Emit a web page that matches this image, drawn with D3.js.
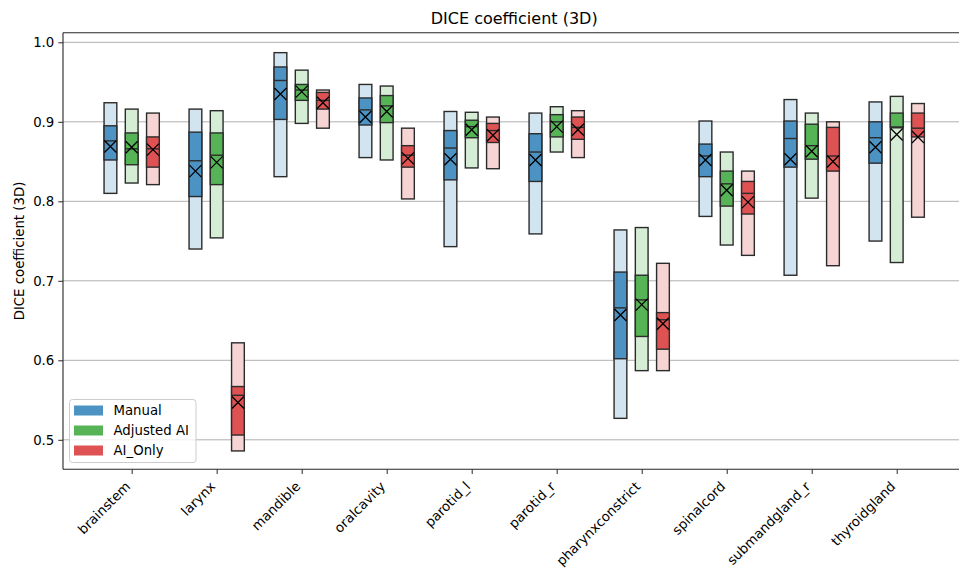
<!DOCTYPE html>
<html>
<head>
<meta charset="utf-8">
<script src="https://cdn.jsdelivr.net/npm/d3@7"></script>
<style>
  html, body { margin: 0; padding: 0; background: #fff; }
  svg { display: block; font-family: "DejaVu Sans", sans-serif; }
</style>
</head>
<body>
<svg id="chart" width="959" height="571"></svg>
<script>
// Structures, in plotting order along the x axis
const categories = ["brainstem", "larynx", "mandible", "oralcavity", "parotid_l",
  "parotid_r", "pharynxconstrict", "spinalcord", "submandgland_r", "thyroidgland"];

const seriesNames = ["Manual", "Adjusted AI", "AI_Only"];

// Per structure: [min, q1, median, q3, max, mean]
const manual = [
  [0.810, 0.852, 0.876, 0.895, 0.924, 0.869],
  [0.740, 0.806, 0.851, 0.887, 0.916, 0.838],
  [0.831, 0.903, 0.952, 0.969, 0.987, 0.935],
  [0.855, 0.896, 0.915, 0.930, 0.947, 0.906],
  [0.743, 0.827, 0.867, 0.889, 0.913, 0.853],
  [0.759, 0.825, 0.862, 0.885, 0.911, 0.852],
  [0.527, 0.602, 0.666, 0.711, 0.764, 0.657],
  [0.781, 0.831, 0.857, 0.872, 0.901, 0.852],
  [0.707, 0.843, 0.879, 0.901, 0.928, 0.853],
  [0.750, 0.848, 0.880, 0.900, 0.925, 0.868]
];
const adjustedAI = [
  [0.823, 0.846, 0.866, 0.886, 0.916, 0.868],
  [0.754, 0.821, 0.858, 0.886, 0.914, 0.849],
  [0.898, 0.927, 0.940, 0.947, 0.965, 0.938],
  [0.852, 0.899, 0.920, 0.933, 0.945, 0.913],
  [0.842, 0.880, 0.894, 0.902, 0.912, 0.890],
  [0.862, 0.881, 0.900, 0.909, 0.919, 0.894],
  [0.587, 0.630, 0.676, 0.707, 0.767, 0.670],
  [0.745, 0.794, 0.822, 0.838, 0.862, 0.814],
  [0.804, 0.853, 0.870, 0.897, 0.911, 0.863],
  [0.723, 0.8925, 0.8935, 0.911, 0.932, 0.884]
];
const aiOnly = [
  [0.821, 0.843, 0.866, 0.881, 0.911, 0.865],
  [0.486, 0.506, 0.556, 0.567, 0.622, 0.547],
  [0.892, 0.916, 0.927, 0.937, 0.940, 0.924],
  [0.803, 0.843, 0.858, 0.870, 0.892, 0.854],
  [0.841, 0.874, 0.889, 0.898, 0.906, 0.883],
  [0.855, 0.878, 0.893, 0.906, 0.914, 0.890],
  [0.587, 0.614, 0.651, 0.660, 0.722, 0.646],
  [0.732, 0.784, 0.810, 0.825, 0.838, 0.799],
  [0.719, 0.838, 0.857, 0.893, 0.900, 0.850],
  [0.780, 0.881, 0.892, 0.911, 0.923, 0.881]
];

const yTicks = [0.5, 0.6, 0.7, 0.8, 0.9, 1.0];

const seriesData = [manual, adjustedAI, aiOnly];
const darkColors = ["#4c92c3", "#56b356", "#de5253"];
const lightColors = ["#d2e4f0", "#d5ecd5", "#f7d4d4"];
const groupOffsets = [-0.25, 0, 0.25];
const boxWidth = 0.15;

const svg = d3.select("#chart");
const frame = { left: 63, top: 32.7, right: 965.4, bottom: 469.3 };

const x = d3.scaleLinear().domain([-0.808, 9.808]).range([frame.left, frame.right]);
const y = d3.scaleLinear().domain([0.4629, 1.0121]).range([frame.bottom, frame.top]);

// Horizontal grid
svg.append("g")
  .selectAll("line")
  .data(yTicks)
  .join("line")
  .attr("x1", frame.left).attr("x2", frame.right)
  .attr("y1", d => y(d)).attr("y2", d => y(d))
  .attr("stroke", "#b0b0b0").attr("stroke-width", 1);

// Boxes
const bw = x(boxWidth) - x(0);
const edge = "#2b2b2b";
const boxes = svg.append("g");
seriesData.forEach((rows, s) => {
  rows.forEach((r, i) => {
    const [mn, q1, med, q3, mx, mean] = r;
    const cx = x(i + groupOffsets[s]);
    const g = boxes.append("g");
    g.append("rect")
      .attr("x", cx - bw / 2).attr("width", bw)
      .attr("y", y(mx)).attr("height", y(mn) - y(mx))
      .attr("fill", lightColors[s]).attr("stroke", edge).attr("stroke-width", 1.4);
    g.append("rect")
      .attr("x", cx - bw / 2).attr("width", bw)
      .attr("y", y(q3)).attr("height", y(q1) - y(q3))
      .attr("fill", darkColors[s]).attr("stroke", edge).attr("stroke-width", 1.4);
    g.append("line")
      .attr("x1", cx - bw / 2).attr("x2", cx + bw / 2)
      .attr("y1", y(med)).attr("y2", y(med))
      .attr("stroke", edge).attr("stroke-width", 1.4);
    const m = 6;
    const my = y(mean);
    g.append("path")
      .attr("d", `M${cx - m},${my - m}L${cx + m},${my + m}M${cx - m},${my + m}L${cx + m},${my - m}`)
      .attr("stroke", "#000").attr("stroke-width", 1.3).attr("fill", "none");
  });
});

// Frame
const spines = svg.append("g").attr("stroke", "#262626").attr("stroke-width", 1.1);
spines.append("line").attr("x1", frame.left).attr("x2", frame.left).attr("y1", frame.top).attr("y2", frame.bottom);
spines.append("line").attr("x1", frame.left).attr("x2", frame.right).attr("y1", frame.top).attr("y2", frame.top);
spines.append("line").attr("x1", frame.left).attr("x2", frame.right).attr("y1", frame.bottom).attr("y2", frame.bottom);
spines.append("line").attr("x1", frame.right).attr("x2", frame.right).attr("y1", frame.top).attr("y2", frame.bottom);

// Y axis
const yAxis = svg.append("g")
  .attr("transform", `translate(${frame.left},0)`)
  .call(d3.axisLeft(y).tickValues(yTicks).tickFormat(d3.format(".1f")).tickSize(4.7).tickPadding(4));
yAxis.select(".domain").remove();
yAxis.selectAll(".tick line").attr("stroke", "#262626").attr("stroke-width", 1);
yAxis.selectAll(".tick text").attr("font-size", 13.3).attr("fill", "#000")
  .attr("font-family", "DejaVu Sans, sans-serif");

// X axis
const xAxis = svg.append("g")
  .attr("transform", `translate(0,${frame.bottom})`)
  .call(d3.axisBottom(x).tickValues(d3.range(categories.length)).tickFormat(i => categories[i]).tickSize(4.7));
xAxis.select(".domain").remove();
xAxis.selectAll(".tick line").attr("stroke", "#262626").attr("stroke-width", 1);
xAxis.selectAll(".tick text")
  .attr("font-size", 13.3).attr("fill", "#000")
  .attr("font-family", "DejaVu Sans, sans-serif")
  .attr("text-anchor", "end")
  .attr("dy", null).attr("y", null)
  .attr("transform", "translate(-1,18) rotate(-45)");

// Axis titles
svg.append("text")
  .attr("x", (frame.left + frame.right) / 2).attr("y", 24)
  .attr("text-anchor", "middle").attr("font-size", 16)
  .text("DICE coefficient (3D)");
svg.append("text")
  .attr("transform", `translate(24,${(frame.top + frame.bottom) / 2}) rotate(-90)`)
  .attr("text-anchor", "middle").attr("font-size", 13.3)
  .text("DICE coefficient (3D)");

// Legend
const legend = svg.append("g").attr("transform", "translate(69.5,399.5)");
legend.append("rect")
  .attr("width", 126.5).attr("height", 63).attr("rx", 3)
  .attr("fill", "#fff").attr("fill-opacity", 0.8)
  .attr("stroke", "#cccccc").attr("stroke-width", 1);
seriesNames.forEach((name, i) => {
  const row = legend.append("g").attr("transform", `translate(0,${11 + i * 20})`);
  row.append("rect").attr("x", 4.5).attr("y", -5).attr("width", 29).attr("height", 10)
    .attr("fill", darkColors[i]);
  row.append("text").attr("x", 44).attr("y", 0).attr("dy", "0.35em")
    .attr("font-size", 13.3).text(name);
});
</script>
</body>
</html>
